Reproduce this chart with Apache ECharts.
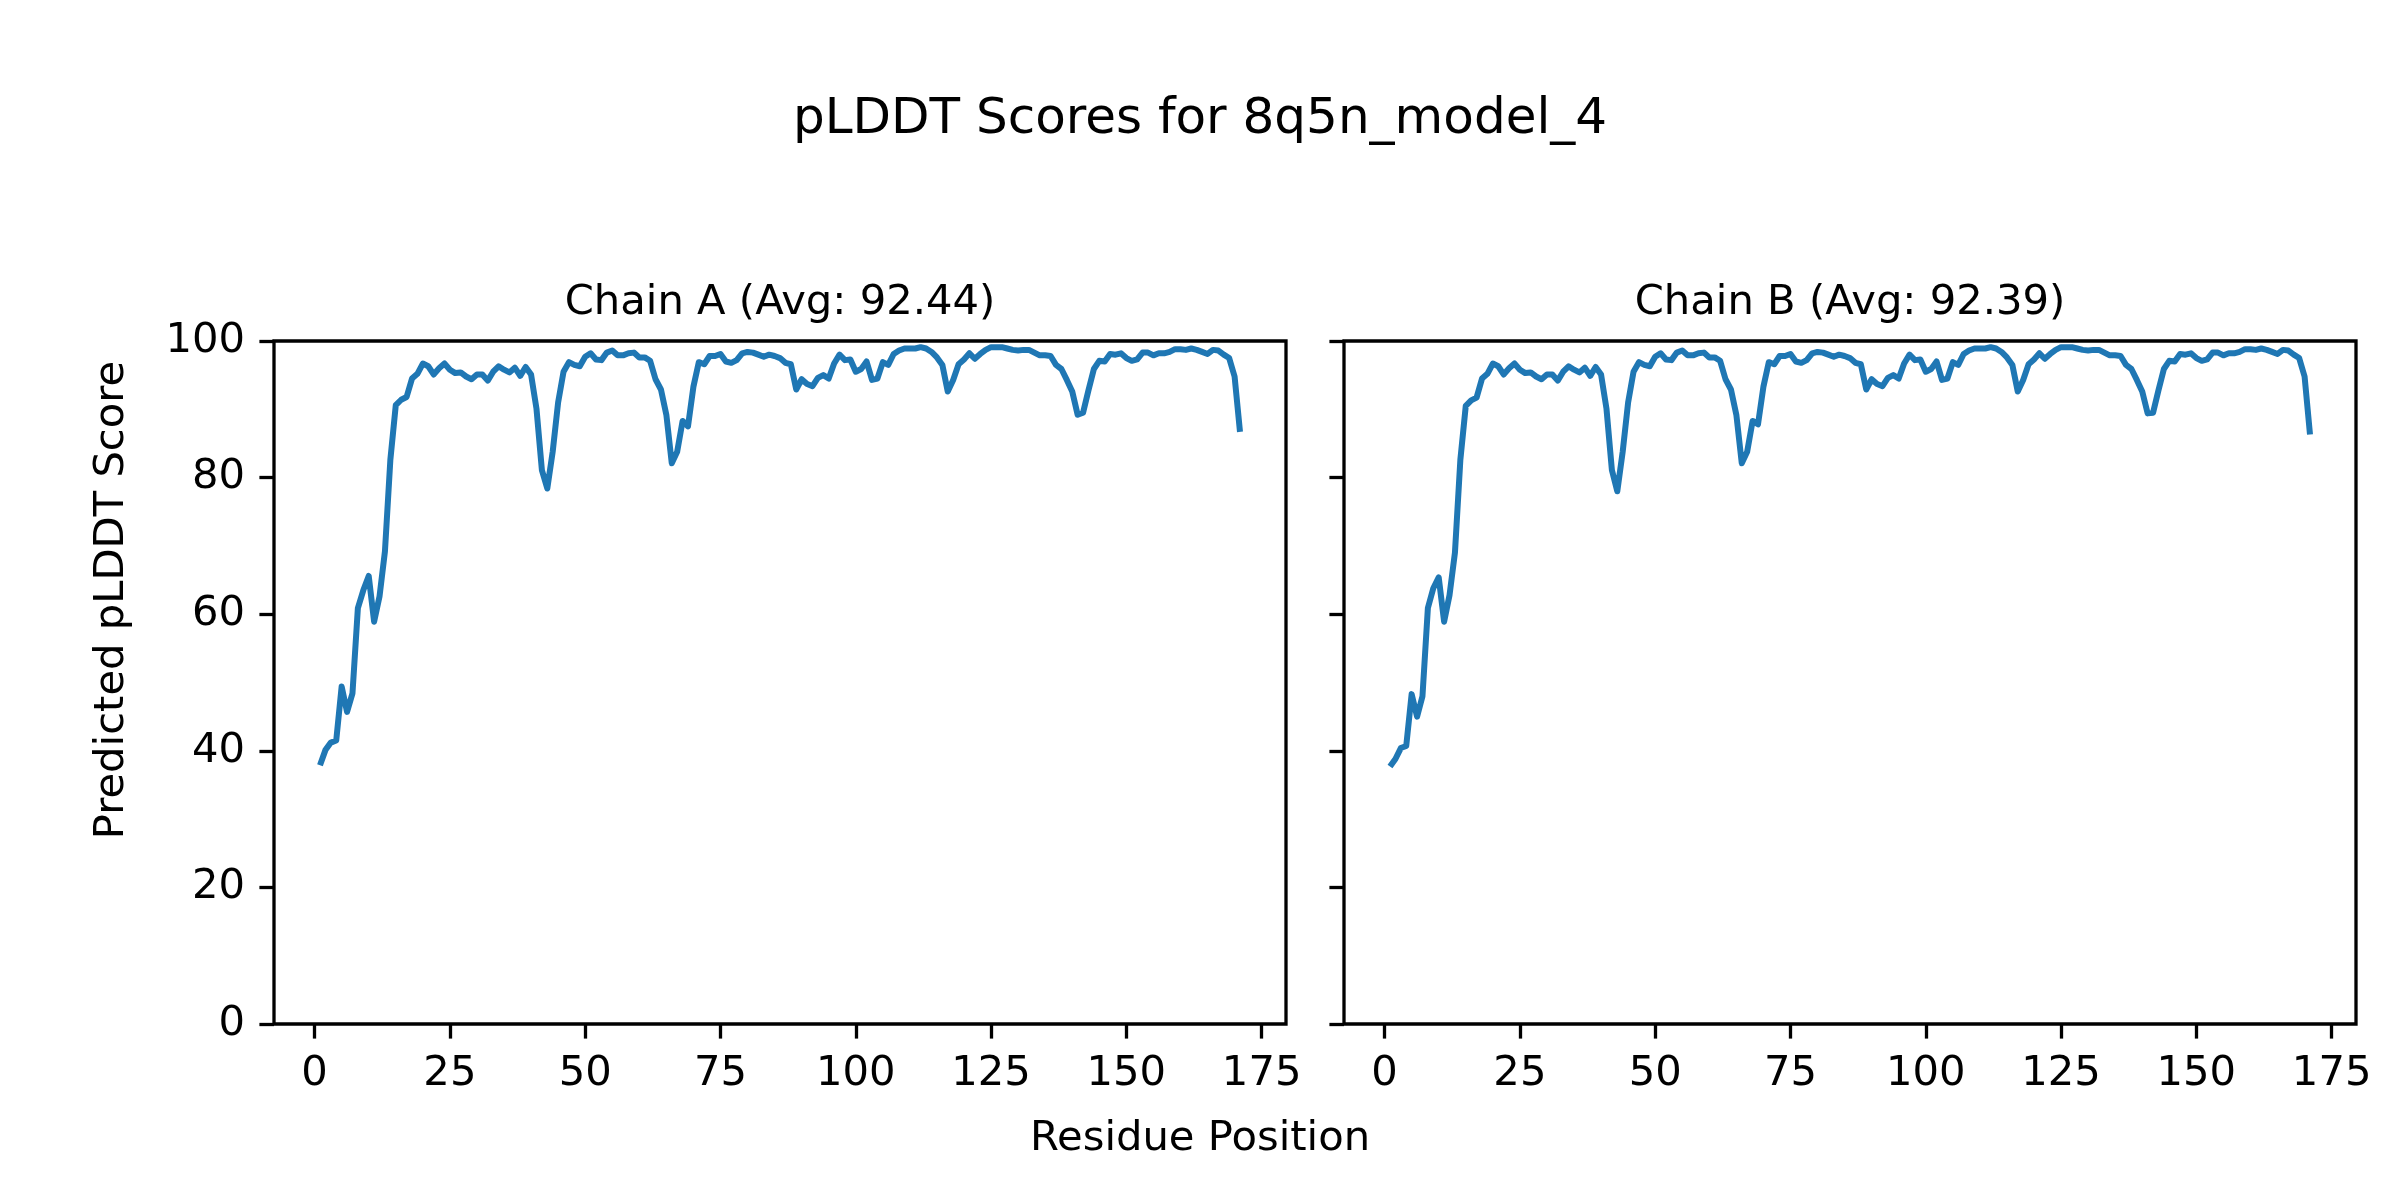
<!DOCTYPE html>
<html><head><meta charset="utf-8">
<script src="https://cdn.jsdelivr.net/npm/echarts@6/dist/echarts.min.js"></script>
<style>html,body{margin:0;padding:0;background:#fff}#c{width:2400px;height:1200px}</style>
</head><body><div id="c"></div>
<script>
const chainATitle = 'Chain A (Avg: 92.44)';
const chainBTitle = 'Chain B (Avg: 92.39)';
const xTicks = [0, 25, 50, 75, 100, 125, 150, 175];
const yTicks = [0, 20, 40, 60, 80, 100];
const chainA = [
37.9,40.1,41.2,41.5,49.4,45.7,48.4,60.9,63.5,65.6,
58.9,62.6,69.2,82.6,90.6,91.4,91.8,94.5,95.2,96.7,
96.3,95.1,96.0,96.7,95.8,95.3,95.4,94.8,94.4,95.1,
95.1,94.2,95.5,96.3,95.8,95.4,96.1,94.9,96.2,95.1,
90.1,81.1,78.4,83.8,91.0,95.5,96.9,96.5,96.3,97.7,
98.2,97.3,97.2,98.3,98.6,97.9,97.9,98.2,98.3,97.6,
97.6,97.1,94.4,92.9,89.2,82.1,83.8,88.3,87.5,93.3,
96.9,96.6,97.8,97.8,98.1,97.0,96.8,97.2,98.2,98.4,
98.3,98.0,97.7,98.0,97.8,97.5,96.8,96.6,92.9,94.4,
93.7,93.4,94.6,95.0,94.5,96.7,98.0,97.2,97.3,95.5,
95.9,97.0,94.3,94.5,96.9,96.5,98.1,98.6,98.9,98.9,
98.9,99.1,98.9,98.4,97.6,96.5,92.6,94.3,96.6,97.3,
98.2,97.4,98.1,98.7,99.1,99.1,99.1,98.9,98.7,98.6,
98.7,98.7,98.3,97.9,97.9,97.8,96.5,95.9,94.3,92.6,
89.2,89.5,92.8,95.9,97.1,97.0,98.1,98.0,98.2,97.5,
97.1,97.3,98.3,98.3,97.9,98.2,98.2,98.4,98.8,98.8,
98.7,98.9,98.7,98.4,98.1,98.7,98.6,98.0,97.5,94.8,
86.7];
const chainB = [
37.7,38.8,40.4,40.7,48.3,45.0,48.0,60.9,63.8,65.4,
58.9,62.8,69.0,82.6,90.5,91.3,91.7,94.5,95.2,96.7,
96.3,95.1,96.0,96.7,95.8,95.3,95.4,94.8,94.4,95.1,
95.1,94.2,95.5,96.3,95.8,95.4,96.1,94.9,96.2,95.1,
90.1,81.1,78.0,83.8,91.0,95.5,96.9,96.5,96.3,97.7,
98.2,97.3,97.2,98.3,98.6,97.9,97.9,98.2,98.3,97.6,
97.6,97.1,94.4,92.9,89.2,82.1,83.8,88.3,87.8,93.3,
96.9,96.6,97.8,97.8,98.1,97.0,96.8,97.2,98.2,98.4,
98.3,98.0,97.7,98.0,97.8,97.5,96.8,96.6,92.9,94.4,
93.7,93.4,94.6,95.0,94.5,96.7,98.0,97.2,97.3,95.5,
95.9,97.0,94.3,94.5,96.9,96.5,98.1,98.6,98.9,98.9,
98.9,99.1,98.9,98.4,97.6,96.5,92.6,94.3,96.6,97.3,
98.2,97.4,98.1,98.7,99.1,99.1,99.1,98.9,98.7,98.6,
98.7,98.7,98.3,97.9,97.9,97.8,96.5,95.9,94.3,92.6,
89.4,89.5,92.8,95.9,97.1,97.0,98.1,98.0,98.2,97.5,
97.1,97.3,98.3,98.3,97.9,98.2,98.2,98.4,98.8,98.8,
98.7,98.9,98.7,98.4,98.1,98.7,98.6,98.0,97.5,94.8,
86.3];

const FF = 'DejaVu Sans';
const FS = 41.7;
const toPairs = arr => arr.map((v, i) => [i + 1, v]);

function xAx(gi) {
  return {
    gridIndex: gi, type: 'value', min: -7.5, max: 179.5, position: 'bottom',
    axisLine: {show: false, onZero: false},
    splitLine: {show: false},
    axisTick: {show: true, customValues: xTicks, length: 14.6, lineStyle: {color: '#000', width: 3.3}},
    axisLabel: {show: true, customValues: xTicks, fontSize: FS, fontFamily: FF, color: '#000', margin: 29}
  };
}
function yAx(gi, showLabel) {
  return {
    gridIndex: gi, type: 'value', min: 0, max: 100, interval: 20, position: 'left',
    axisLine: {show: false, onZero: false},
    splitLine: {show: false},
    axisTick: {show: true, length: 14.6, lineStyle: {color: '#000', width: 3.3}},
    axisLabel: {show: showLabel, fontSize: FS, fontFamily: FF, color: '#000', margin: 29}
  };
}

const chart = echarts.init(document.getElementById('c'), null, {renderer: 'canvas'});
chart.setOption({
  animation: false,
  backgroundColor: '#fff',
  grid: [
    {left: 274, top: 341, width: 1012, height: 683, show: true, borderColor: '#000', borderWidth: 3.3, backgroundColor: 'transparent'},
    {left: 1344, top: 341, width: 1012, height: 683, show: true, borderColor: '#000', borderWidth: 3.3, backgroundColor: 'transparent'}
  ],
  xAxis: [xAx(0), xAx(1)],
  yAxis: [yAx(0, true), yAx(1, false)],
  series: [
    {type: 'line', xAxisIndex: 0, yAxisIndex: 0, data: toPairs(chainA), showSymbol: false, symbol: 'none',
     lineStyle: {color: '#1f77b4', width: 6, join: 'round', cap: 'butt'}, itemStyle: {color: '#1f77b4'}, z: 3},
    {type: 'line', xAxisIndex: 1, yAxisIndex: 1, data: toPairs(chainB), showSymbol: false, symbol: 'none',
     lineStyle: {color: '#1f77b4', width: 6, join: 'round', cap: 'butt'}, itemStyle: {color: '#1f77b4'}, z: 3}
  ],
  graphic: [
    {type: 'text', x: 1200, y: 120, style: {text: 'pLDDT Scores for 8q5n_model_4', font: '50px "DejaVu Sans"', fill: '#000', textAlign: 'center', textVerticalAlign: 'middle'}},
    {type: 'text', x: 780, y: 303, style: {text: chainATitle, font: FS + 'px "DejaVu Sans"', fill: '#000', textAlign: 'center', textVerticalAlign: 'middle'}},
    {type: 'text', x: 1850, y: 303, style: {text: chainBTitle, font: FS + 'px "DejaVu Sans"', fill: '#000', textAlign: 'center', textVerticalAlign: 'middle'}},
    {type: 'text', x: 1200, y: 1139, style: {text: 'Residue Position', font: FS + 'px "DejaVu Sans"', fill: '#000', textAlign: 'center', textVerticalAlign: 'middle'}},
    {type: 'text', x: 112, y: 600, rotation: Math.PI / 2, style: {text: 'Predicted pLDDT Score', font: FS + 'px "DejaVu Sans"', fill: '#000', textAlign: 'center', textVerticalAlign: 'middle'}}
  ]
});
</script>
</body></html>
